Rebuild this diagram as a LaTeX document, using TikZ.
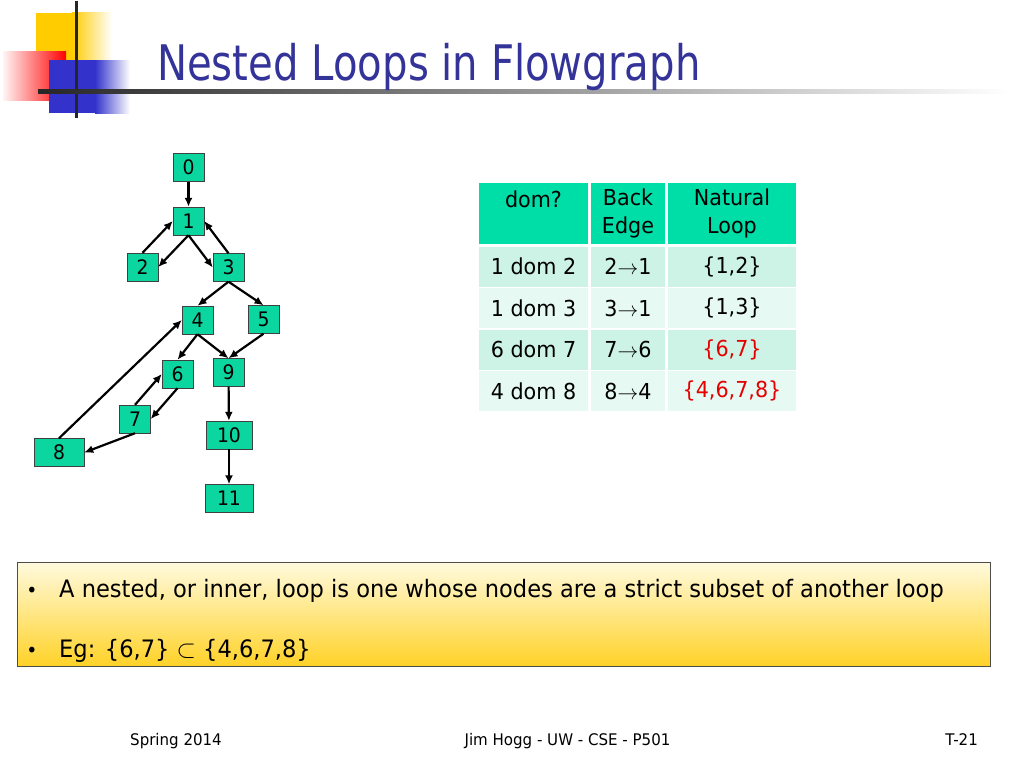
\documentclass[tikz,border=0pt]{standalone}
\usepackage{fontspec}
\setmainfont[FakeStretch=0.94]{DejaVu Sans}
\newfontfamily\titlefont[FakeStretch=0.82]{DejaVu Sans}
\usepackage{tikz}
\usetikzlibrary{arrows}
\usetikzlibrary{arrows.meta}
\usetikzlibrary{shapes}
\usetikzlibrary{positioning}

\definecolor{nodegreen}{RGB}{12,214,160}
\definecolor{headgreen}{RGB}{0,222,168}
\definecolor{rowdark}{RGB}{204,243,229}
\definecolor{rowlight}{RGB}{230,249,242}
\definecolor{titleblue}{RGB}{51,51,153}
\definecolor{noteyellow}{RGB}{255,210,40}
\definecolor{notecream}{RGB}{255,250,222}
\definecolor{logoyellow}{RGB}{255,204,0}
\definecolor{logoblue}{RGB}{51,51,204}
\definecolor{setred}{RGB}{230,0,0}

\tikzset{
 blk/.style={rectangle, draw=black!75, fill=nodegreen, minimum width=31pt, minimum height=28pt, inner sep=1pt, font=\fontsize{20}{20}\selectfont},
 cell/.style={rectangle, draw=white, line width=1.5pt, inner sep=0pt, align=center, font=\fontsize{22}{28}\selectfont},
 edge/.style={-{Latex[length=9pt, width=8pt]}, line width=2.2pt, draw=black}
}

\begin{document}
\begin{tikzpicture}[x=1pt, y=-1pt]
 \useasboundingbox (0, 0) rectangle (1024, 768);
 % logo
 \fill [logoyellow] (36, 13) rectangle (72, 60);
 \shade [left color=logoyellow, right color=white] (72, 13) rectangle (112, 60);
 \shade [left color=red!4, right color=red] (3, 52) rectangle (66, 100);
 \fill [logoblue] (49, 60) rectangle (95, 113);
 \shade [left color=logoblue, right color=white] (95, 60) rectangle (130, 113);
 \fill [black!85] (74.5, 1) rectangle (77.5, 118);
 \shade [left color=black!85, middle color=black!45, right color=white] (38, 89) rectangle (1010, 93);
 \node [anchor=base west, inner sep=0pt, text=titleblue, font=\titlefont\fontsize{49}{49}\selectfont] (title) at (157, 80) {Nested Loops in Flowgraph};

 % flowgraph
 \node [blk] (n0) at (188.5, 167.5) {0};
 \node [blk] (n1) at (188.5, 221) {1};
 \node [blk] (n2) at (142.5, 267) {2};
 \node [blk] (n3) at (228.5, 267.5) {3};
 \node [blk] (n4) at (197.5, 320) {4};
 \node [blk] (n5) at (263.5, 319.5) {5};
 \node [blk] (n6) at (177.5, 374) {6};
 \node [blk] (n9) at (228.5, 372.5) {9};
 \node [blk] (n7) at (135, 419) {7};
 \node [blk, minimum width=46pt] (n10) at (229, 435) {10};
 \node [blk, minimum width=50pt] (n8) at (59, 452.5) {8};
 \node [blk, minimum width=48pt] (n11) at (229, 498.5) {11};
 \draw [edge] (n0) to (n1);
 \draw [edge] (n1.south) to (n2.east);
 \draw [edge] (n2.north) to (n1.west);
 \draw [edge] (n1.south) to (n3.west);
 \draw [edge] (n3.north) to (n1.east);
 \draw [edge] (n3.south) to (n4.north);
 \draw [edge] (n3.south) to (n5.north);
 \draw [edge] (n4.south) to (n6.north);
 \draw [edge] (n4.south) to (n9.north);
 \draw [edge] (n5.south) to (n9.north);
 \draw [edge] (n6.south) to (n7.east);
 \draw [edge] (n7.north) to (n6.west);
 \draw [edge] (n7.south) to (n8.east);
 \draw [edge] (n8.north) to (n4.west);
 \draw [edge] (n9) to (n10);
 \draw [edge] (n10) to (n11);

 % table
 \node [cell, fill=headgreen, minimum width=111pt, minimum height=63pt] (h1) at (533.5, 213.5) {dom?\\\mbox{}};
 \node [cell, fill=headgreen, minimum width=76pt, minimum height=63pt] (h2) at (628, 213.5) {Back\\Edge};
 \node [cell, fill=headgreen, minimum width=130pt, minimum height=63pt] (h3) at (732, 213.5) {Natural\\Loop};
 \node [cell, fill=rowdark, minimum width=111pt, minimum height=41.5pt] (r1a) at (533.5, 266.5) {1 dom 2};
 \node [cell, fill=rowdark, minimum width=76pt, minimum height=41.5pt] (r1b) at (628, 266.5) {2$\rightarrow$1};
 \node [cell, fill=rowdark, minimum width=130pt, minimum height=41.5pt] (r1c) at (732, 266.5) {\{1,2\}};
 \node [cell, fill=rowlight, minimum width=111pt, minimum height=41.5pt] (r2a) at (533.5, 308) {1 dom 3};
 \node [cell, fill=rowlight, minimum width=76pt, minimum height=41.5pt] (r2b) at (628, 308) {3$\rightarrow$1};
 \node [cell, fill=rowlight, minimum width=130pt, minimum height=41.5pt] (r2c) at (732, 308) {\{1,3\}};
 \node [cell, fill=rowdark, minimum width=111pt, minimum height=41.5pt] (r3a) at (533.5, 349.5) {6 dom 7};
 \node [cell, fill=rowdark, minimum width=76pt, minimum height=41.5pt] (r3b) at (628, 349.5) {7$\rightarrow$6};
 \node [cell, fill=rowdark, minimum width=130pt, minimum height=41.5pt, text=setred] (r3c) at (732, 349.5) {\{6,7\}};
 \node [cell, fill=rowlight, minimum width=111pt, minimum height=41.5pt] (r4a) at (533.5, 391) {4 dom 8};
 \node [cell, fill=rowlight, minimum width=76pt, minimum height=41.5pt] (r4b) at (628, 391) {8$\rightarrow$4};
 \node [cell, fill=rowlight, minimum width=130pt, minimum height=41.5pt, text=setred] (r4c) at (732, 391) {\{4,6,7,8\}};

 % note box
 \node [rectangle, draw=black!70, line width=1pt, top color=notecream, bottom color=noteyellow, minimum width=973pt, minimum height=104pt] (note) at (503.5, 614) {};
 \node [anchor=base, inner sep=0pt, font=\fontsize{20}{20}\selectfont] (dot1) at (32, 597) {\textbullet};
 \node [anchor=base west, inner sep=0pt, font=\fontsize{24}{24}\selectfont] (line1) at (59, 597) {A nested, or inner, loop is one whose nodes are a strict subset of another loop};
 \node [anchor=base, inner sep=0pt, font=\fontsize{20}{20}\selectfont] (dot2) at (32, 657) {\textbullet};
 \node [anchor=base west, inner sep=0pt, font=\fontsize{24}{24}\selectfont] (line2) at (59, 657) {Eg: \{6,7\} $\subset$ \{4,6,7,8\}};

 % footer
 \node [anchor=base west, inner sep=0pt, font=\fontsize{16}{16}\selectfont] (foot1) at (130, 745) {Spring 2014};
 \node [anchor=base, inner sep=0pt, font=\fontsize{16}{16}\selectfont] (foot2) at (567.5, 745) {Jim Hogg - UW - CSE - P501};
 \node [anchor=base east, inner sep=0pt, font=\fontsize{16}{16}\selectfont] (foot3) at (978, 745) {T-21};
\end{tikzpicture}
\end{document}
